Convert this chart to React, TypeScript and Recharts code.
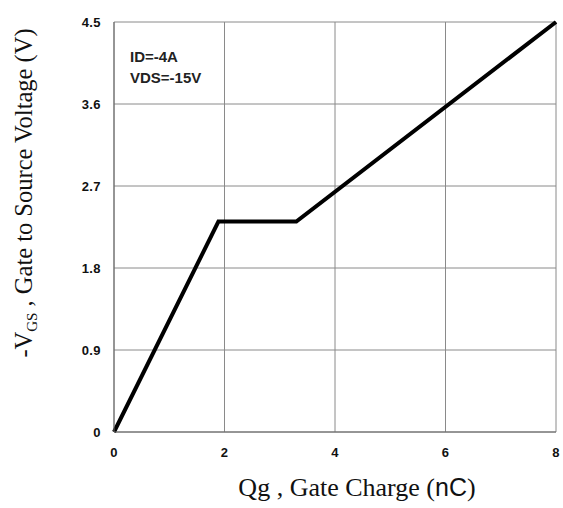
import { LineChart, Line, XAxis, YAxis, CartesianGrid, Label } from 'recharts';

// Gate charge curve
const qgValues = [0, 1.89, 3.3, 8];
const vgsValues = [0, 2.31, 2.31, 4.5];
const xTicks = [0, 2, 4, 6, 8];
const yTicks = [0, 0.9, 1.8, 2.7, 3.6, 4.5];
const conditions = ['ID=-4A', 'VDS=-15V'];

const data = qgValues.map((qg, i) => ({ qg, vgs: vgsValues[i] }));

const sans = '"Liberation Sans", Arial, sans-serif';
const serif = '"Liberation Serif", "Times New Roman", serif';

const makeTick = (dy: string) => (props: any) => {
  const { x, y, textAnchor, payload } = props;
  return (
    <text
      x={x}
      y={y}
      dy={dy}
      textAnchor={textAnchor}
      fontFamily={sans}
      fontWeight={700}
      fontSize={13}
      letterSpacing={0.4}
      fill="#111"
    >
      {payload.value}
    </text>
  );
};

export default function App() {
  return (
    <div style={{ position: 'absolute', left: 0, top: 0, width: 563, height: 508, background: '#fff' }}>
      <LineChart
        width={563}
        height={508}
        data={data}
        margin={{ top: 22, right: 7, bottom: 46, left: 0 }}
        style={{ overflow: 'visible' }}
      >
        <CartesianGrid stroke="#8a8a8a" strokeWidth={1} />
        <XAxis
          dataKey="qg"
          type="number"
          domain={[0, 8]}
          ticks={xTicks}
          height={30}
          tickLine={false}
          tickSize={0}
          tickMargin={16}
          axisLine={{ stroke: '#666' }}
          tick={makeTick('0.71em')}
        >
          <Label
            content={(props: any) => {
              const vb = props.viewBox || {};
              return (
                <text
                  x={vb.x + vb.width / 2 + 22}
                  y={vb.y + 64}
                  textAnchor="middle"
                  fontFamily={serif}
                  fontSize={26}
                  fill="#111"
                >
                  Qg , Gate Charge (
                  <tspan fontFamily={sans} fontSize={25}>nC</tspan>)
                </text>
              );
            }}
          />
        </XAxis>
        <YAxis
          type="number"
          domain={[0, 4.5]}
          ticks={yTicks}
          width={114}
          tickLine={false}
          tickSize={0}
          tickMargin={13}
          axisLine={{ stroke: '#666' }}
          tick={makeTick('0.36em')}
        >
          <Label
            content={() => {
              const cx = 32;
              const cy = 193;
              return (
                <text
                  x={cx}
                  y={cy}
                  transform={`rotate(-90, ${cx}, ${cy})`}
                  textAnchor="middle"
                  fontFamily={serif}
                  fontSize={24.5}
                  fill="#111"
                >
                  -V
                  <tspan fontSize={15} dy={5}>GS</tspan>
                  <tspan dy={-5}> , Gate to Source Voltage (V)</tspan>
                </text>
              );
            }}
          />
        </YAxis>
        <Line
          type="linear"
          dataKey="vgs"
          stroke="#000"
          strokeWidth={4}
          dot={false}
          isAnimationActive={false}
        />
        <text fontFamily={sans} fontWeight={700} fontSize={15} fill="#222">
          <tspan x={130} y={62}>{conditions[0]}</tspan>
          <tspan x={130} y={83}>{conditions[1]}</tspan>
        </text>
      </LineChart>
    </div>
  );
}
